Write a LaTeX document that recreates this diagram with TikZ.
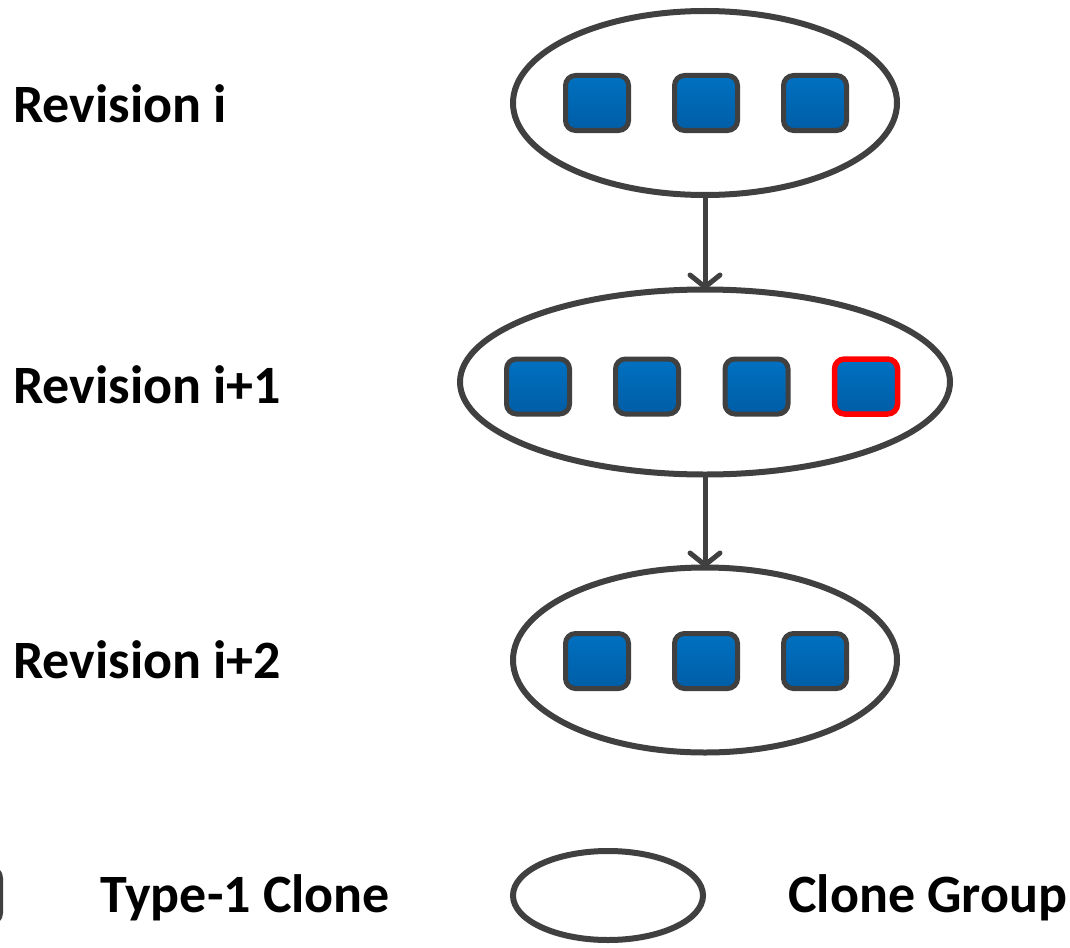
\documentclass[tikz,border=0pt]{standalone}
\usepackage{fontspec}
\setmainfont{Carlito}
\usetikzlibrary{shapes.geometric,arrows.meta}
\definecolor{lineg}{RGB}{64,64,64}
\definecolor{btop}{RGB}{0,113,193}
\definecolor{bbot}{RGB}{0,93,166}
\definecolor{redb}{RGB}{255,0,0}
\tikzset{
  grp/.style={ellipse,draw=lineg,line width=6pt,inner sep=0pt,outer sep=0pt,fill=white},
  clonebox/.style={draw=lineg,line width=5pt,rounded corners=10pt,minimum width=63pt,minimum height=55pt,inner sep=0pt,top color=btop,bottom color=bbot},
  redbox/.style={clonebox,draw=redb,line width=5.5pt},
  lbl/.style={anchor=base west,inner sep=0pt,font=\fontsize{54}{60}\selectfont\bfseries},
  arr/.style={draw=lineg,line width=5pt,-{Straight Barb[length=12pt,width=30pt,round]}}
}
\begin{document}
\begin{tikzpicture}[x=1pt,y=-1pt]
\useasboundingbox (0,0) rectangle (1070,947);
\clip (0,0) rectangle (1070,947);
\fill[white] (0,0) rectangle (1070,947);
% groups
\node[grp,minimum width=384pt,minimum height=184pt] (g1) at (705,103) {};
\node[grp,minimum width=490pt,minimum height=185pt] (g2) at (705,382) {};
\node[grp,minimum width=384pt,minimum height=185pt] (g3) at (705,660) {};
% clones
\node[clonebox] (a1) at (597,103) {};
\node[clonebox] (a2) at (706,103) {};
\node[clonebox] (a3) at (815,103) {};
\node[clonebox] (b1) at (538,386.5) {};
\node[clonebox] (b2) at (647,386.5) {};
\node[clonebox] (b3) at (756.5,386.5) {};
\node[redbox] (b4) at (866,386.5) {};
\node[clonebox] (c1) at (597,661) {};
\node[clonebox] (c2) at (706,661) {};
\node[clonebox] (c3) at (815,661) {};
% arrows
\draw[arr] (g1.south) -- (g2.north);
\draw[arr] (g2.south) -- (g3.north);
% labels
\node[lbl] (r1) at (13,122) {Revision i};
\node[lbl] (r2) at (13,403) {Revision i+1};
\node[lbl] (r3) at (13,678) {Revision i+2};
% legend
\node[clonebox] (lbox) at (-31,895.5) {};
\node[lbl] (lt1) at (100,912) {Type-1 Clone};
\node[grp,minimum width=190pt,minimum height=89pt] (lell) at (608,895.5) {};
\node[lbl] (lt2) at (788,912) {Clone Group};
\end{tikzpicture}
\end{document}
